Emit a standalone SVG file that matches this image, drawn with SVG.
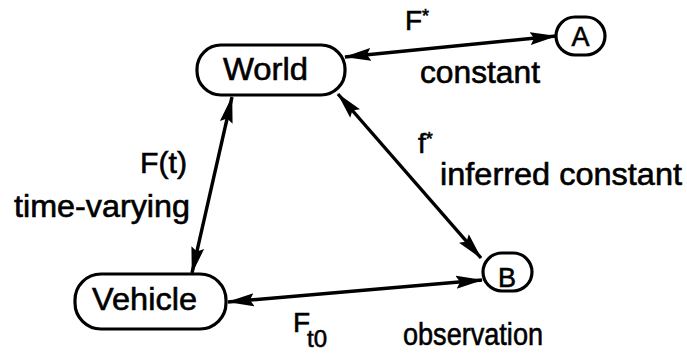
<svg xmlns="http://www.w3.org/2000/svg" width="687" height="354" viewBox="0 0 687 354">
<defs>
<style>
.t{font-family:"Liberation Sans",Arial,Helvetica,sans-serif;fill:#000;stroke:#000;stroke-width:0.6}
.box{fill:#fff;stroke:#000;stroke-width:3.2}
.c{stroke:#000;stroke-width:3.4;fill:none;marker-start:url(#ah);marker-end:url(#ah)}
</style>
<marker id="ah" markerUnits="userSpaceOnUse" markerWidth="28" markerHeight="14" refX="26" refY="7" orient="auto-start-reverse" viewBox="0 0 28 14">
<path d="M0,0.5 L27,7 L0,13.5 L4,7 z" fill="#000"/>
</marker>
</defs>
<rect width="687" height="354" fill="#fff"/>
<g id="connectors">
<line class="c" x1="345" y1="57" x2="556" y2="36"/>
<line class="c" x1="232" y1="97" x2="192" y2="273"/>
<line class="c" x1="338" y1="94" x2="481" y2="258"/>
<line class="c" x1="228" y1="302" x2="482" y2="280"/>
</g>
<g id="world">
<rect class="box" x="197" y="45" width="148" height="50" rx="24"/>
<text class="t" x="223" y="80" font-size="32" textLength="85" lengthAdjust="spacingAndGlyphs">World</text>
</g>
<g id="vehicle">
<rect class="box" x="75" y="274" width="151" height="55" rx="26"/>
<text class="t" x="92" y="310" font-size="32" textLength="105" lengthAdjust="spacingAndGlyphs">Vehicle</text>
</g>
<g id="a">
<rect class="box" x="556" y="17" width="49" height="38" rx="19"/>
<text class="t" x="580.5" y="46" font-size="27" text-anchor="middle">A</text>
</g>
<g id="b">
<rect class="box" x="483" y="253" width="49" height="38" rx="19"/>
<text class="t" x="507" y="287" font-size="27" text-anchor="middle">B</text>
</g>
<g id="labels">
<text class="t" x="405" y="30" font-size="28">F<tspan dy="-8" font-size="18">*</tspan></text>
<text class="t" x="420" y="83" font-size="31" textLength="120" lengthAdjust="spacingAndGlyphs">constant</text>
<text class="t" x="140" y="173" font-size="30" textLength="47" lengthAdjust="spacingAndGlyphs">F(t)</text>
<text class="t" x="14" y="217" font-size="31" textLength="176" lengthAdjust="spacingAndGlyphs">time-varying</text>
<text class="t" x="418" y="153" font-size="28">f<tspan dy="-8" font-size="18">*</tspan></text>
<text class="t" x="440" y="185" font-size="31" textLength="242" lengthAdjust="spacingAndGlyphs">inferred constant</text>
<text class="t" x="293" y="332" font-size="28">F<tspan x="307" y="347" font-size="24">t0</tspan></text>
<text class="t" x="403" y="345" font-size="32" textLength="140" lengthAdjust="spacingAndGlyphs">observation</text>
</g>
</svg>
